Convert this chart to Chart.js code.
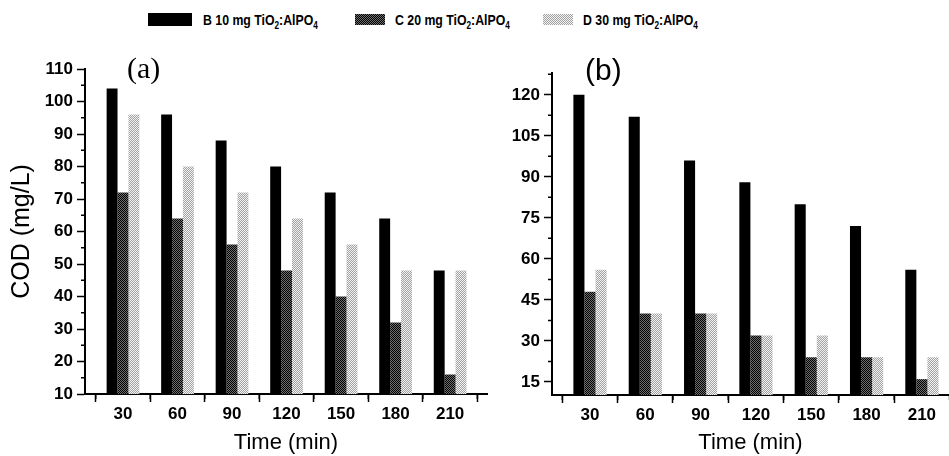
<!DOCTYPE html>
<html>
<head>
<meta charset="utf-8">
<script src="https://cdn.jsdelivr.net/npm/chart.js@4.4.0/dist/chart.umd.min.js"></script>
<style>
  body { margin: 0; background: #fff; width: 949px; height: 456px; overflow: hidden; position: relative; font-family: "Liberation Sans", Arial, sans-serif; }
  #wrapA { position: absolute; left: 0; top: 0; width: 490px; height: 456px; }
  #wrapB { position: absolute; left: 490px; top: 0; width: 459px; height: 456px; }
  .swatch { position: absolute; top: 14px; width: 30px; height: 11px; }
  .ltext { position: absolute; top: 11px; font-weight: bold; font-size: 15px; line-height: 17px; white-space: nowrap; transform: scaleX(0.82); transform-origin: left center; }
  .ltext sub { font-size: 10px; vertical-align: -4px; line-height: 0; }
  .panel { position: absolute; line-height: 30px; font-size: 30px; }
</style>
</head>
<body>
<div id="legend"></div>
<div id="wrapA"><canvas id="chartA"></canvas></div>
<div id="wrapB"><canvas id="chartB"></canvas></div>
<div class="panel" style="left:127px; top:53px; font-family:'Liberation Serif', serif;">(a)</div>
<div class="panel" style="left:585px; top:55px; font-family:'Liberation Sans', sans-serif;">(b)</div>
<script>
// Data
const times = [30, 60, 90, 120, 150, 180, 210];
const seriesNames = ['B 10 mg', 'C 20 mg', 'D 30 mg'];

// panel (a)
const aB = [104, 96, 88, 80, 72, 64, 48];
const aC = [72, 64, 56, 48, 40, 32, 16];
const aD = [96, 80, 72, 64, 56, 48, 48];

// panel (b)
const bB = [120, 112, 96, 88, 80, 72, 56];
const bC = [48, 40, 40, 32, 24, 24, 16];
const bD = [56, 40, 40, 32, 32, 24, 24];

// tick labels
const aYTicks = [10, 20, 30, 40, 50, 60, 70, 80, 90, 100, 110];
const bYTicks = [15, 30, 45, 60, 75, 90, 105, 120];
const xMinor = [15, 45, 75, 105, 135, 165, 195, 225];
const aYMinor = [15, 25, 35, 45, 55, 65, 75, 85, 95, 105];
const bYMinor = [22.5, 37.5, 52.5, 67.5, 82.5, 97.5, 112.5, 127.5];

const FONT = '"Liberation Sans", Arial, sans-serif';

// stipple fills like the printed figure
function makePattern(a, b) {
    const c = document.createElement('canvas');
    c.width = 2; c.height = 2;
    const g = c.getContext('2d');
    g.fillStyle = b; g.fillRect(0, 0, 2, 2);
    g.fillStyle = a; g.fillRect(0, 0, 1, 1); g.fillRect(1, 1, 1, 1);
    return c;
}
const patC = makePattern('#000000', '#707070');
const patD = makePattern('#f2f2f2', '#a2a2a2');
const ctxTmp = document.createElement('canvas').getContext('2d');
const fills = ['#000000', ctxTmp.createPattern(patC, 'repeat'), ctxTmp.createPattern(patD, 'repeat')];
const swatchBg = ['#000000', 'url(' + patC.toDataURL() + ')', 'url(' + patD.toDataURL() + ')'];

// legend (first swatch is wider in the figure)
const legendPos = [[148, 203, 44], [355, 395, 30], [543, 583, 30]];
const legend = document.getElementById('legend');
seriesNames.forEach((name, i) => {
    const sw = document.createElement('div');
    sw.className = 'swatch';
    sw.style.left = legendPos[i][0] + 'px';
    sw.style.width = legendPos[i][2] + 'px';
    if (i === 0) { sw.style.top = '13px'; sw.style.height = '13px'; }
    sw.style.background = swatchBg[i];
    legend.appendChild(sw);
    const t = document.createElement('div');
    t.className = 'ltext';
    t.style.left = legendPos[i][1] + 'px';
    t.innerHTML = name + ' TiO<sub>2</sub>:AlPO<sub>4</sub>';
    legend.appendChild(t);
});

// short ticks between the labelled ones
const minorTicks = {
    id: 'minorTicks',
    afterDraw(chart, args, opts) {
        const { ctx, chartArea, scales } = chart;
        ctx.save();
        ctx.strokeStyle = '#000';
        ctx.lineWidth = 1.5;
        ctx.beginPath();
        (opts.x || []).forEach(v => {
            const px = scales.x.getPixelForValue(v);
            if (px > chartArea.right + 1) return;
            ctx.moveTo(px, chartArea.bottom);
            ctx.lineTo(px, chartArea.bottom + 5);
        });
        (opts.y || []).forEach(v => {
            const py = scales.y.getPixelForValue(v);
            ctx.moveTo(chartArea.left, py);
            ctx.lineTo(chartArea.left - 4, py);
        });
        ctx.stroke();
        ctx.restore();
    }
};

function makeSets(b, c, d) {
    return [b, c, d].map((vals, i) => ({
        label: seriesNames[i] + ' TiO₂:AlPO₄',
        data: times.map((t, j) => ({ x: t, y: vals[j] })),
        backgroundColor: fills[i],
        borderWidth: 0,
        categoryPercentage: 0.6,
        barPercentage: 1.0
    }));
}

function makeChart(id, sets, cfg) {
    return new Chart(document.getElementById(id), {
        type: 'bar',
        data: { datasets: sets },
        options: {
            responsive: true,
            maintainAspectRatio: false,
            animation: false,
            layout: { padding: { left: 0, right: cfg.padRight, top: cfg.padTop, bottom: 0 } },
            plugins: {
                legend: { display: false },
                tooltip: { enabled: false },
                minorTicks: { x: xMinor, y: cfg.yMinor }
            },
            scales: {
                x: {
                    type: 'linear',
                    min: cfg.xMin,
                    max: cfg.xMax,
                    offset: false,
                    afterBuildTicks: s => { s.ticks = times.map(v => ({ value: v })); },
                    afterFit: s => { s.height = cfg.xHeight; },
                    grid: { drawOnChartArea: false, drawTicks: true, tickLength: 8, tickColor: '#000', tickWidth: 1.5 },
                    border: { display: true, color: '#000', width: 2 },
                    ticks: { color: '#000', font: { family: FONT, size: 17, weight: 'bold' }, padding: 2, maxRotation: 0, autoSkip: false },
                    title: { display: true, text: 'Time (min)', color: '#000', font: { family: FONT, size: 22 }, padding: 0 }
                },
                y: {
                    min: cfg.yMin,
                    max: cfg.yMax,
                    afterBuildTicks: s => { s.ticks = cfg.yTicks.map(v => ({ value: v })); },
                    afterFit: s => { s.width = cfg.yWidth; },
                    grid: { drawOnChartArea: false, drawTicks: true, tickLength: 8, tickColor: '#000', tickWidth: 1.5 },
                    border: { display: true, color: '#000', width: 2 },
                    ticks: { color: '#000', font: { family: FONT, size: 17, weight: 'bold' }, padding: 4, autoSkip: false },
                    title: { display: cfg.yTitle !== '', text: cfg.yTitle, color: '#000', font: { family: FONT, size: 25 }, padding: 7 }
                }
            }
        },
        plugins: [minorTicks]
    });
}

makeChart('chartA', makeSets(aB, aC, aD), {
    xMin: 9.1, xMax: 230.3, yMin: 10, yMax: 110, yTicks: aYTicks, yMinor: aYMinor,
    yWidth: 85, xHeight: 62, padTop: 69, padRight: 3, yTitle: 'COD (mg/L)'
});

makeChart('chartB', makeSets(bB, bC, bD), {
    xMin: 9.4, xMax: 224.7, yMin: 10.2, yMax: 128, yTicks: bYTicks, yMinor: bYMinor,
    yWidth: 62, xHeight: 61, padTop: 73, padRight: 0, yTitle: ''
});
</script>
</body>
</html>
